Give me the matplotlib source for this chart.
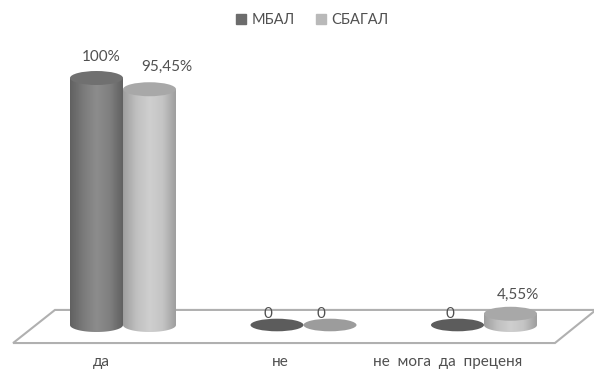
import numpy as np
import matplotlib
matplotlib.use("Agg")
import matplotlib.pyplot as plt
from matplotlib.patches import Ellipse, Polygon
from matplotlib.lines import Line2D

plt.rcParams['font.family'] = ['Lato', 'DejaVu Sans']

# ---- data ----
categories = ["да", "не", "не  мога  да  преценя"]
series_names = ["МБАЛ", "СБАГАЛ"]
mbal = [100, 0, 0]
sbagal = [95.45, 0, 4.55]
mbal_labels = ["100%", "0", "0"]
sbagal_labels = ["95,45%", "0", "4,55%"]

# ---- style ----
TEXT = "#505050"
DARK_SIDE = [0.38, 0.48, 0.55, 0.50, 0.38]      # gray levels across the cylinder
LIGHT_SIDE = [0.62, 0.75, 0.81, 0.77, 0.62]
DARK_TOP = "#707070"
LIGHT_TOP = "#a8a8a8"
DARK_DISC = "#5c5c5c"
LIGHT_DISC = "#9c9c9c"
LEGEND_DARK = "#6c6c6c"
LEGEND_LIGHT = "#b9b9b9"

W, H = 594, 377
fig = plt.figure(figsize=(W / 100, H / 100), dpi=100)
ax = fig.add_axes([0, 0, 1, 1])

# scales: one category = 180.5 px, one percent = 2.47 px
px_x, px_y = 180.5, 2.47
x_origin, y_origin = 123, 325
ax.set_xlim((0 - x_origin) / px_x, (W - x_origin) / px_x)
ax.set_ylim((y_origin - H) / px_y, (y_origin - 0) / px_y)
ax.axis("off")

bar_w = 53 / px_x
offset = 26.5 / px_x
ell_h = 14 / px_y

# floor of the 3D plot
floor_front = -7.3
floor_back = 6.1
floor = Polygon([(-0.609, floor_front), (-0.377, floor_back),
                 (2.62, floor_back), (2.393, floor_front)],
                closed=True, facecolor="white", edgecolor="#b0b0b0", lw=1.5, zorder=1)
ax.add_patch(floor)


def side_profile(levels, n=120):
    pos = np.linspace(0, 1, len(levels))
    return np.interp(np.linspace(0, 1, n), pos, levels)


def cylinder(xc, value, levels, top_color, disc_color, z):
    x0, x1 = xc - bar_w / 2, xc + bar_w / 2
    if value > 0:
        a = np.linspace(np.pi, 2 * np.pi, 60)
        arc = np.column_stack([xc + bar_w / 2 * np.cos(a), ell_h / 2 * np.sin(a)])
        verts = np.vstack([[x0, value], arc, [x1, value]])
        clip = Polygon(verts, closed=True, facecolor="none", edgecolor="none", zorder=z)
        ax.add_patch(clip)
        prof = side_profile(levels)
        img = np.tile(prof, (2, 1))
        im = ax.imshow(img, cmap="gray", vmin=0, vmax=1, aspect="auto",
                       extent=[x0, x1, -ell_h / 2, value], origin="lower",
                       interpolation="bilinear", zorder=z)
        im.set_clip_path(clip)
        ax.add_patch(Ellipse((xc, value), bar_w, ell_h, facecolor=top_color,
                             edgecolor="none", zorder=z + 0.5))
    else:
        ax.add_patch(Ellipse((xc, value), bar_w, ell_h * 0.9, facecolor=disc_color,
                             edgecolor="none", zorder=z + 0.5))


# value label offsets in pixels (dx, dy) from the top of each cylinder
mbal_off = [(4.5, 21), (-9.5, 11), (-7.5, 11)]
sbagal_off = [(17.5, 22), (-9.5, 11), (7.5, 19)]

for i, (v1, v2) in enumerate(zip(mbal, sbagal)):
    xd, xl = i - offset, i + offset
    cylinder(xd, v1, DARK_SIDE, DARK_TOP, DARK_DISC, 3 + i)
    cylinder(xl, v2, LIGHT_SIDE, LIGHT_TOP, LIGHT_DISC, 4 + i)
    ax.annotate(mbal_labels[i], (xd, v1), xytext=mbal_off[i], textcoords="offset pixels",
                ha="center", va="center", fontsize=11, color=TEXT, zorder=20)
    ax.annotate(sbagal_labels[i], (xl, v2), xytext=sbagal_off[i], textcoords="offset pixels",
                ha="center", va="center", fontsize=11, color=TEXT, zorder=20)

# category labels under the floor
cat_dx = [-0.12, -0.13, -0.20]
for i, name in enumerate(categories):
    ax.text(i + cat_dx[i], -15, name, ha="center", va="center", fontsize=11, color=TEXT)

handles = [Line2D([], [], marker="s", ls="none", markersize=7, color=LEGEND_DARK),
           Line2D([], [], marker="s", ls="none", markersize=7, color=LEGEND_LIGHT)]
fig.legend(handles, series_names, loc="center", bbox_to_anchor=(0.525, 0.947), ncol=2,
           frameon=False, fontsize=10.5, labelcolor=TEXT, handletextpad=0.3,
           columnspacing=1.4, handlelength=0.8)

fig.savefig("out.png", dpi=100)
